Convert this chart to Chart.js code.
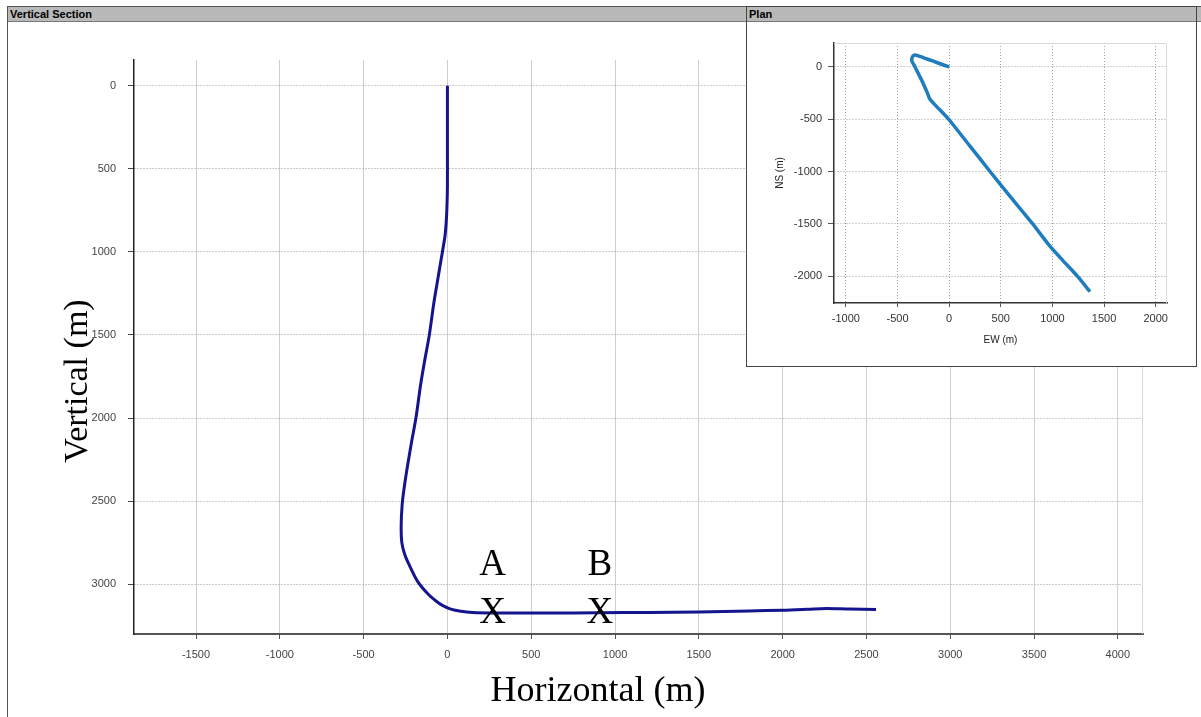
<!DOCTYPE html>
<html>
<head>
<meta charset="utf-8">
<title>Vertical Section / Plan</title>
<script src="https://cdn.jsdelivr.net/npm/chart.js@4.4.1/dist/chart.umd.min.js"></script>
<style>
  html, body { margin: 0; padding: 0; background: #fff; width: 1201px; height: 717px; overflow: hidden;
    font-family: "Liberation Sans", Arial, sans-serif; }
  #frame { position: absolute; left: 7px; top: 6px; width: 1200px; height: 720px;
    border: 1px solid #555; box-sizing: border-box; }
  .bar { position: absolute; left: 0; top: 0; right: 0; height: 15px; background: #b9b9b9;
    border-bottom: 1px solid #777; font-weight: bold; font-size: 11px; line-height: 15px;
    padding-left: 2px; color: #000; box-sizing: border-box; }
  #main { position: absolute; left: 0; top: 0; }
  #plan { position: absolute; left: 746px; top: 6px; width: 451px; height: 361px;
    border: 1px solid #444; box-sizing: border-box; background: #fff; }
  #planCanvas { position: absolute; left: 0; top: 15px; }
</style>
</head>
<body>
<div id="frame"><div class="bar">Vertical Section</div></div>
<canvas id="main" width="1201" height="717"></canvas>
<div id="plan">
  <div class="bar">Plan</div>
  <canvas id="planCanvas" width="449" height="344"></canvas>
</div>

<script>
// ---- Vertical section: horizontal displacement (m) vs. vertical depth (m)
const sectionHorizontal = [0, 0, 0, 0, -2, -6, -14, -30, -55, -80, -108, -135, -160, -188, -215, -240,
  -258, -270, -276, -272, -255, -230, -180, -120, -70, -30, 20, 80, 150, 300, 600, 900, 1200, 1500,
  1800, 2000, 2150, 2260, 2400, 2557];
const sectionDepth = [0, 200, 400, 600, 700, 800, 900, 1000, 1150, 1300, 1500, 1650, 1800, 2000, 2150, 2300,
  2420, 2520, 2650, 2750, 2820, 2880, 2980, 3055, 3100, 3128, 3150, 3163, 3170, 3173, 3174, 3172, 3170, 3167,
  3161, 3157, 3151, 3146, 3150, 3152];

// ---- Marked positions along the lateral
const markerLabels = ['A', 'B'];
const markerHorizontal = [270, 910];
const markerDepth = [3160, 3160];

// ---- Plan view: east-west (m) vs. north-south (m)
const planEW = [0, -80, -160, -240, -310, -340, -358, -362, -330, -290, -250, -210, -185, -120, -60, 0,
  200, 400, 600, 800, 976, 1100, 1250, 1364];
const planNS = [0, 28, 57, 85, 110, 112, 90, 60, 0, -80, -160, -250, -310, -380, -440, -505,
  -755, -1005, -1250, -1490, -1715, -1850, -2010, -2150];

// ---- Axis tick values and titles
const sectionXTicks = [-1500, -1000, -500, 0, 500, 1000, 1500, 2000, 2500, 3000, 3500, 4000];
const sectionYTicks = [0, 500, 1000, 1500, 2000, 2500, 3000];
const planXTicks = [-1000, -500, 0, 500, 1000, 1500, 2000];
const planYTicks = [-2000, -1500, -1000, -500, 0];
const sectionXTitle = 'Horizontal (m)';
const sectionYTitle = 'Vertical (m)';

const toPoints = (xs, ys) => xs.map((x, i) => ({ x: x, y: ys[i] }));
const fixedTicks = list => (scale) => { scale.ticks = list.map(v => ({ value: v })); };
const plainLabel = v => String(v);

// Letters and crosses marking positions on the section
const markerPlugin = {
  id: 'markers',
  afterDatasetsDraw(chart) {
    const { ctx, scales } = chart;
    ctx.save();
    ctx.fillStyle = '#000';
    ctx.font = '37px "Liberation Serif", "Times New Roman", serif';
    ctx.textAlign = 'center';
    ctx.textBaseline = 'middle';
    markerLabels.forEach((lab, i) => {
      const px = scales.x.getPixelForValue(markerHorizontal[i]);
      const py = scales.y.getPixelForValue(markerDepth[i]);
      ctx.fillText('X', px, py + 3);
      ctx.fillText(lab, px, py - 45);
    });
    ctx.restore();
  }
};

// Large serif axis titles of the section
const sectionTitles = {
  id: 'sectionTitles',
  afterDraw(chart) {
    const { ctx } = chart;
    ctx.save();
    ctx.fillStyle = '#000';
    ctx.textAlign = 'center';
    ctx.textBaseline = 'middle';
    ctx.font = '36px "Liberation Serif", "Times New Roman", serif';
    ctx.fillText(sectionXTitle, 598, 692);
    ctx.translate(78, 381);
    ctx.rotate(-Math.PI / 2);
    ctx.font = '34px "Liberation Serif", "Times New Roman", serif';
    ctx.fillText(sectionYTitle, 0, 0);
    ctx.restore();
  }
};

// Light edge lines around a plot area
const edgePlugin = (withTop) => ({
  id: 'edges',
  beforeDatasetsDraw(chart) {
    const { ctx, chartArea: a } = chart;
    ctx.save();
    ctx.strokeStyle = '#d8d8d8';
    ctx.lineWidth = 1;
    ctx.beginPath();
    if (withTop) {
      ctx.moveTo(a.left, a.top + 0.5);
      ctx.lineTo(a.right - 0.5, a.top + 0.5);
    } else {
      ctx.moveTo(a.right - 0.5, a.top);
    }
    ctx.lineTo(a.right - 0.5, a.bottom);
    ctx.stroke();
    ctx.restore();
  }
});

const tickFont = { family: '"Liberation Sans", Arial, sans-serif', size: 11 };

new Chart(document.getElementById('main'), {
  type: 'scatter',
  data: {
    datasets: [{
      data: toPoints(sectionHorizontal, sectionDepth),
      showLine: true,
      borderColor: '#14148e',
      borderWidth: 3,
      pointRadius: 0,
      tension: 0.3,
      fill: false
    }]
  },
  options: {
    responsive: false,
    animation: false,
    events: [],
    layout: { padding: { left: 56, top: 60, right: 58, bottom: 8 } },
    plugins: { legend: { display: false }, tooltip: { enabled: false } },
    scales: {
      x: {
        type: 'linear', position: 'bottom', min: -1870, max: 4150,
        afterBuildTicks: fixedTicks(sectionXTicks),
        afterFit(s) { s.height = 75; },
        ticks: { font: tickFont, color: '#444', padding: 9, maxRotation: 0, autoSkip: false, callback: plainLabel },
        grid: { color: '#cfcfcf', lineWidth: 1, tickColor: '#555', tickLength: 5 },
        border: { color: '#555', width: 2 },
        title: { display: false }
      },
      y: {
        type: 'linear', position: 'left', reverse: true, min: -155, max: 3300,
        afterBuildTicks: fixedTicks(sectionYTicks),
        afterFit(s) { s.width = 78; },
        ticks: { font: tickFont, color: '#444', padding: 12, autoSkip: false, callback: plainLabel },
        grid: { color: '#9a9a9a', lineWidth: 1, tickColor: '#444', tickLength: 6 },
        border: { color: '#222', width: 1.5, dash: [1, 2] },
        title: { display: false }
      }
    }
  },
  plugins: [edgePlugin(false), markerPlugin, sectionTitles]
});

const planTickFont = { family: '"Liberation Sans", Arial, sans-serif', size: 11 };
const planTitleFont = { family: '"Liberation Sans", Arial, sans-serif', size: 10 };

new Chart(document.getElementById('planCanvas'), {
  type: 'scatter',
  data: {
    datasets: [{
      data: toPoints(planEW, planNS),
      showLine: true,
      borderColor: '#1f7dbd',
      borderWidth: 3.5,
      pointRadius: 0,
      tension: 0.25,
      fill: false
    }]
  },
  options: {
    responsive: false,
    animation: false,
    events: [],
    layout: { padding: { left: 20, top: 21, right: 29, bottom: 14 } },
    plugins: { legend: { display: false }, tooltip: { enabled: false } },
    scales: {
      x: {
        type: 'linear', position: 'bottom', min: -1115, max: 2110,
        afterBuildTicks: fixedTicks(planXTicks),
        afterFit(s) { s.height = 49; },
        ticks: { font: planTickFont, color: '#333', padding: 5, maxRotation: 0, autoSkip: false, callback: plainLabel },
        grid: { color: '#a0a0a0', lineWidth: 1, tickColor: '#555', tickLength: 4 },
        border: { color: '#333', width: 1.5, dash: [1, 2] },
        title: { display: true, text: 'EW (m)', font: planTitleFont, color: '#222', padding: { top: 0, bottom: 6 } }
      },
      y: {
        type: 'linear', position: 'left', min: -2258, max: 229,
        afterBuildTicks: fixedTicks(planYTicks),
        afterFit(s) { s.width = 67; },
        ticks: { font: planTickFont, color: '#333', padding: 6, autoSkip: false, callback: plainLabel },
        grid: { color: '#a0a0a0', lineWidth: 1, tickColor: '#555', tickLength: 6 },
        border: { color: '#333', width: 1.5, dash: [1, 2] },
        title: { display: true, text: 'NS (m)', font: planTitleFont, color: '#222', padding: { top: 7, bottom: 0 } }
      }
    }
  },
  plugins: [edgePlugin(true)]
});
</script>
</body>
</html>
